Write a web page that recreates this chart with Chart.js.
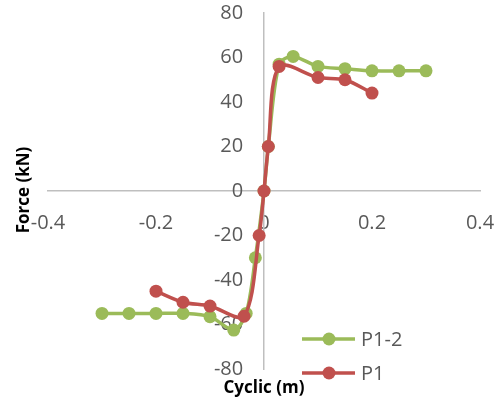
<!DOCTYPE html>
<html>
<head>
<meta charset="utf-8">
<script src="https://cdn.jsdelivr.net/npm/chart.js@4"></script>
<style>
  html, body { margin: 0; padding: 0; background: #fff; }
  #wrap { width: 500px; height: 403px; position: relative; }
</style>
</head>
<body>
<div id="wrap"><canvas id="chart"></canvas></div>
<script>
// series (x in m, y in kN)
const seriesNames = ["P1-2", "P1"];
const p12X = [-0.30, -0.25, -0.20, -0.15, -0.10, -0.056, -0.033, -0.016, 0, 0.008, 0.028, 0.054, 0.10, 0.15, 0.20, 0.25, 0.30];
const p12Y = [-55, -55, -55, -55, -56.5, -62.5, -55, -30, 0, 20, 57, 60.5, 56, 55, 54, 54, 54];
const p1X = [-0.20, -0.15, -0.10, -0.037, -0.009, 0, 0.008, 0.028, 0.10, 0.15, 0.20];
const p1Y = [-45, -50, -51.7, -56.3, -20, 0, 20, 56, 51, 50, 44];

const xTicks = [-0.4, -0.2, 0, 0.2, 0.4];
const yTicks = [-80, -60, -40, -20, 0, 20, 40, 60, 80];
const xTitle = "Cyclic (m)";
const yTitle = "Force (kN)";

const green = "#9BBB59";
const red = "#C0504D";
const grey = "#595959";
const axisGrey = "#BFBFBF";
const fontFamily = "'Open Sans', 'Liberation Sans', sans-serif";

function toPoints(xs, ys) {
    return xs.map(function (x, i) { return { x: x, y: ys[i] }; });
}

// centred axes should not take room from the plot
function noRoom(s) {
    if (s.isHorizontal()) s.height = 0; else s.width = 0;
    s.paddingLeft = s.paddingRight = s.paddingTop = s.paddingBottom = 0;
}

// axis titles and the legend, placed like the Excel original
const extras = {
    id: "extras",
    afterDraw(chart) {
        const ctx = chart.ctx;
        ctx.save();
        ctx.fillStyle = "#000";
        ctx.font = "bold 17px " + fontFamily;
        ctx.textAlign = "center";
        ctx.textBaseline = "middle";
        ctx.fillText(xTitle, chart.scales.x.getPixelForValue(0), 388);
        ctx.translate(24, 190);
        ctx.rotate(-Math.PI / 2);
        ctx.fillText(yTitle, 0, 0);
        ctx.restore();

        ctx.save();
        ctx.font = "20px " + fontFamily;
        ctx.textAlign = "left";
        ctx.textBaseline = "middle";
        chart.data.datasets.forEach(function (ds, i) {
            const y = 339 + i * 34;
            ctx.strokeStyle = ds.borderColor;
            ctx.lineWidth = 3.5;
            ctx.beginPath();
            ctx.moveTo(302, y);
            ctx.lineTo(355, y);
            ctx.stroke();
            ctx.fillStyle = ds.backgroundColor;
            ctx.beginPath();
            ctx.arc(329, y, 6.5, 0, Math.PI * 2);
            ctx.fill();
            ctx.fillStyle = grey;
            ctx.fillText(ds.label, 361, y + 1);
        });
        ctx.restore();
    }
};

new Chart(document.getElementById("chart"), {
    type: "line",
    data: {
        datasets: [{
            label: seriesNames[0],
            data: toPoints(p12X, p12Y),
            borderColor: green,
            backgroundColor: green,
            borderWidth: 3.5,
            pointRadius: 6.5,
            pointHoverRadius: 6.5,
            pointBorderWidth: 0,
            tension: 0.3,
            order: 2
        }, {
            label: seriesNames[1],
            data: toPoints(p1X, p1Y),
            borderColor: red,
            backgroundColor: red,
            borderWidth: 3.5,
            pointRadius: 6.5,
            pointHoverRadius: 6.5,
            pointBorderWidth: 0,
            tension: 0.3,
            order: 1
        }]
    },
    options: {
        responsive: true,
        maintainAspectRatio: false,
        animation: false,
        layout: { padding: { left: 48, right: 20, top: 13, bottom: 34 } },
        scales: {
            x: {
                type: "linear",
                position: { y: 0 },
                min: xTicks[0],
                max: xTicks[xTicks.length - 1],
                afterBuildTicks: function (s) { s.ticks = xTicks.map(function (v) { return { value: v }; }); },
                afterFit: noRoom,
                grid: { display: false, drawTicks: false },
                border: { color: axisGrey, width: 1.5 },
                ticks: {
                    color: grey,
                    font: { family: fontFamily, size: 20 },
                    padding: 20,
                    autoSkip: false,
                    maxRotation: 0,
                    callback: function (v) { return String(v); }
                }
            },
            y: {
                type: "linear",
                position: { x: 0 },
                min: yTicks[0],
                max: yTicks[yTicks.length - 1],
                afterBuildTicks: function (s) { s.ticks = yTicks.map(function (v) { return { value: v }; }); },
                afterFit: noRoom,
                grid: { display: false, drawTicks: false },
                border: { color: axisGrey, width: 1.5 },
                ticks: {
                    color: grey,
                    font: { family: fontFamily, size: 20 },
                    autoSkip: false,
                    // centred y labels ignore ticks.padding, so the gap is kept with spaces
                    callback: function (v) { return String(v) + "    "; }
                }
            }
        },
        plugins: {
            legend: { display: false },
            tooltip: { enabled: false }
        }
    },
    plugins: [extras]
});
</script>
</body>
</html>
